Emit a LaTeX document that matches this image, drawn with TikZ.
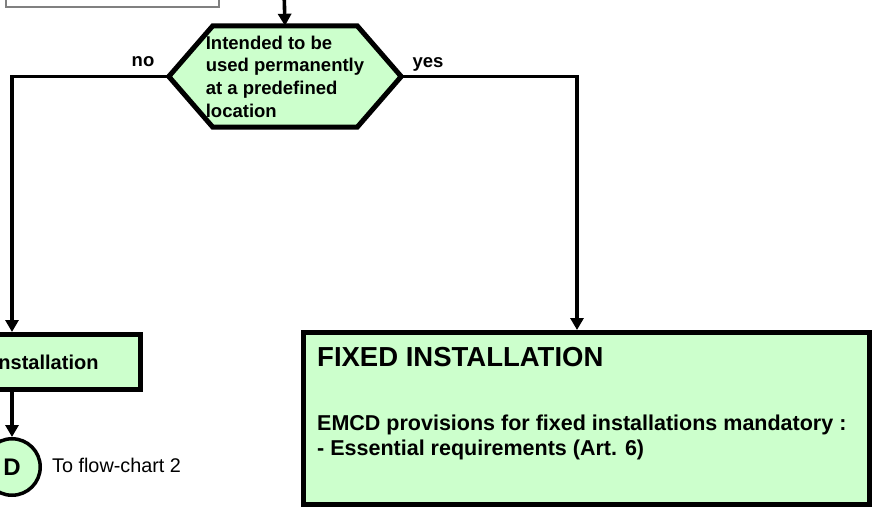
\documentclass[tikz,border=0pt]{standalone}
\usepackage{fontspec}
\setmainfont{Liberation Sans}
\usepackage{tikz}
\usetikzlibrary{arrows.meta,backgrounds}
\definecolor{mint}{RGB}{204,255,204}
\tikzstyle{edge} = [draw,line width=3.6pt]
\tikzstyle{box} = [draw,line width=5pt,fill=mint,inner sep=0]
\tikzstyle{prevbox} = [draw=gray,line width=1.5pt,fill=white]
\tikzstyle{hexa} = [draw,line width=5pt,fill=mint]

\begin{document}
\begin{tikzpicture}[x=1pt,y=-1pt,post/.style={edge,-{Triangle[length=12pt,width=13pt]}}]
    \useasboundingbox (0,0) rectangle (874,511);

    \node[prevbox,minimum width=213pt,minimum height=60pt] (prev) at (112.5,-23) {};
    \coordinate (above) at (284,-10);

    \node[inner sep=0,minimum width=232pt,minimum height=101pt,align=left,font=\fontsize{18.5}{22.7}\selectfont\bfseries] (hex) at (285,76.5) {Intended to be\\used permanently\\at a predefined\\location};
    \begin{scope}[on background layer]
        \path[hexa] (hex.west) -- ([xshift=44pt]hex.north west) -- ([xshift=-44pt]hex.north east) -- (hex.east) -- ([xshift=-44pt]hex.south east) -- ([xshift=44pt]hex.south west) -- cycle;
    \end{scope}
    \node[font=\fontsize{18.5}{22}\selectfont\bfseries] (no) at (143,62) {no};
    \node[font=\fontsize{18.5}{22}\selectfont\bfseries] (yes) at (428,64) {yes};

    \node[box,anchor=east,minimum height=55pt,inner xsep=41.5pt,font=\fontsize{20}{24}\selectfont\bfseries] (mob) at (142.5,362) {nstallation};
    \node[box,circle,line width=3.5pt,minimum size=56.5pt,font=\fontsize{24}{28}\selectfont\bfseries] (dlink) at (12,467) {D};
    \node[anchor=west,inner sep=0,font=\fontsize{19.8}{24}\selectfont] (flow) at (52,465) {To flow-chart 2};

    \node[box,minimum width=566pt,minimum height=172pt] (fixed) at (586.5,418.5) {};
    \node[anchor=north west,inner sep=0,font=\fontsize{27.5}{32}\selectfont\bfseries] (fixtitle) at (317,347) {FIXED INSTALLATION};
    \node[anchor=north west,inner sep=0,align=left,font=\fontsize{21.5}{25.5}\selectfont\bfseries] (fixtext) at (317,414.5) {EMCD provisions for fixed installations mandatory :\\- Essential requirements (Art. 6)};

    \draw[post] (above) -- (hex.north);
    \draw[post] (hex.west) -| (mob.north -| dlink);
    \draw[post] (hex.east) -| ([xshift=-9.5pt]fixed.north);
    \draw[post] (mob.south -| dlink) -- (dlink);
\end{tikzpicture}
\end{document}
